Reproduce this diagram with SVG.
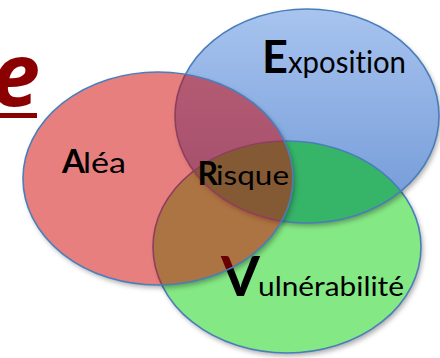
<svg xmlns="http://www.w3.org/2000/svg" width="440" height="358" viewBox="0 0 440 358">
  <style>
    text { font-variant-ligatures: none; font-feature-settings: "liga" 0, "clig" 0; }
    .outline { fill: none; stroke: #4A7EBB; stroke-width: 1.6; }
    .shadow { fill: #000; fill-opacity: 0.32; filter: url(#soft); }
    .cap { font-family: Lato, "Open Sans", "Liberation Sans", sans-serif; font-weight: 700; fill: #000; }
    .lbl { font-family: Lato, "Open Sans", "Liberation Sans", sans-serif; font-weight: 400; fill: #000; }
    .title { font-family: "Open Sans", Lato, "Liberation Sans", sans-serif; font-weight: 700; font-style: italic; fill: #8B0000; }
  </style>
  <defs>
    <filter id="soft" x="-20%" y="-20%" width="140%" height="140%">
      <feGaussianBlur stdDeviation="2.5"/>
    </filter>
    <linearGradient id="blueFill" x1="0" y1="0" x2="0" y2="1">
      <stop offset="0" stop-color="#A8C4EF"/>
      <stop offset="1" stop-color="#7098D6"/>
    </linearGradient>
    <clipPath id="inBlue">
      <ellipse cx="307" cy="116" rx="132" ry="107"/>
    </clipPath>
    <mask id="outsideRed" maskUnits="userSpaceOnUse" x="0" y="0" width="440" height="358">
      <rect width="440" height="358" fill="#fff"/>
      <ellipse cx="158" cy="178.5" rx="135" ry="106.5" fill="#000"/>
    </mask>
  </defs>

  <!-- title fragment, running off the left edge -->
  <g id="title">
    <text class="title" x="40" y="106" font-size="88" text-anchor="end">e</text>
    <rect x="0" y="113" width="37" height="5" fill="#8B0000"/>
  </g>

  <!-- green set -->
  <g id="vulnerabilite">
    <ellipse class="shadow" cx="289" cy="250" rx="134" ry="106"/>
    <ellipse cx="287" cy="247" rx="134" ry="106" fill="#84E884"/>
    <ellipse class="outline" cx="287" cy="247" rx="134" ry="106"/>
    <text y="296"><tspan class="cap" x="221" font-size="56">V</tspan><tspan class="lbl" x="258" font-size="26" textLength="146" lengthAdjust="spacingAndGlyphs">ulnérabilité</tspan></text>
  </g>

  <!-- blue set, with its overlap on the green set -->
  <g id="exposition">
    <ellipse class="shadow" cx="309" cy="119" rx="132" ry="107"/>
    <ellipse cx="307" cy="116" rx="132" ry="107" fill="url(#blueFill)"/>
    <ellipse cx="287" cy="247" rx="134" ry="106" fill="#36B468" clip-path="url(#inBlue)"/>
    <ellipse class="outline" cx="287" cy="247" rx="134" ry="106" clip-path="url(#inBlue)"/>
    <ellipse class="outline" cx="307" cy="116" rx="132" ry="107"/>
    <text y="73"><tspan class="cap" x="262" font-size="45">E</tspan><tspan class="lbl" x="288" font-size="30" textLength="118" lengthAdjust="spacingAndGlyphs">xposition</tspan></text>
  </g>

  <!-- red set, translucent over the others -->
  <g id="alea">
    <ellipse class="shadow" cx="160" cy="181.5" rx="135" ry="106.5" mask="url(#outsideRed)"/>
    <ellipse cx="158" cy="178.5" rx="135" ry="106.5" fill="#D20000" fill-opacity="0.5"/>
    <ellipse class="outline" cx="158" cy="178.5" rx="135" ry="106.5"/>
    <text y="173"><tspan class="cap" x="62" font-size="33">A</tspan><tspan class="lbl" x="83" font-size="28" textLength="43" lengthAdjust="spacingAndGlyphs">léa</tspan></text>
  </g>

  <!-- centre label -->
  <g id="risque">
    <text y="185"><tspan class="cap" x="197.5" font-size="32">R</tspan><tspan class="lbl" x="216" font-size="26" textLength="73" lengthAdjust="spacingAndGlyphs">isque</tspan></text>
  </g>
</svg>
